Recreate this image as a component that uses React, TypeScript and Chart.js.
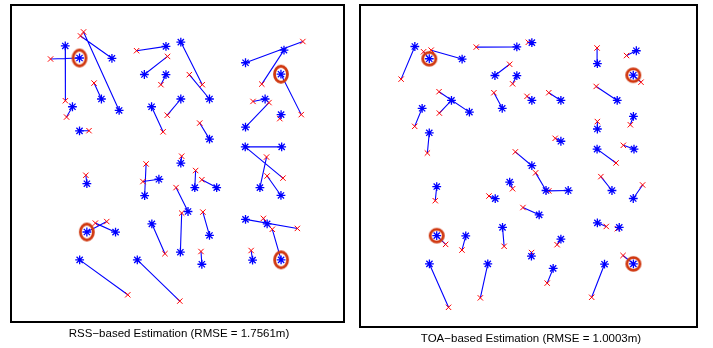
import React, { useEffect, useRef } from "react";
import { Chart, registerables } from "chart.js";

Chart.register(...registerables);

// True node positions (blue asterisks), metres
const trueX = [3.21, 4.2, 6.45, 6.95, 5.72, 3.71, 4.2, 10.2, 11.23, 8.7, 10.2, 9.2, 11.23, 13.22, 13.22, 11.23, 15.72, 18.39, 18.18, 17.08, 15.72, 18.19, 18.23, 15.7, 16.72, 18.18, 15.72, 17.22, 18.19, 16.21, 12.2, 13.72, 11.73, 11.2, 13.22, 12.69, 8.21, 4.21, 4.71, 6.7, 9.22, 4.71, 8.72, 9.71];
const trueY = [18.7, 17.86, 17.84, 14.2, 15.0, 14.46, 12.78, 18.67, 18.97, 16.71, 16.7, 14.46, 15.0, 15.0, 12.2, 10.52, 17.53, 18.41, 16.73, 15.0, 13.04, 13.91, 11.66, 11.66, 8.82, 8.27, 6.6, 6.29, 3.78, 3.76, 8.82, 8.82, 7.15, 4.31, 5.48, 3.47, 3.78, 3.78, 5.72, 5.71, 6.29, 9.09, 8.26, 9.4];

// RSS-based estimates (red x, left panel)
const rssX = [3.22, 2.19, 4.27, 4.48, 5.21, 3.3, 4.86, 8.16, 12.72, 10.31, 9.85, 10.0, 10.29, 11.82, 12.54, 11.29, 19.7, 16.85, 19.59, 16.24, 17.35, 18.1, 15.71, 18.32, 17.18, 17.22, 19.32, 16.96, 17.58, 16.11, 12.26, 12.69, 10.9, 11.29, 12.76, 12.63, 11.16, 7.55, 6.09, 5.3, 10.13, 4.64, 8.82, 8.6];
const rssY = [14.88, 17.79, 19.4, 19.68, 16.11, 13.74, 12.79, 18.37, 16.0, 17.97, 16.0, 12.71, 13.87, 16.7, 13.32, 11.01, 19.01, 16.04, 13.91, 14.83, 14.75, 13.63, 11.67, 9.48, 10.95, 9.63, 5.97, 6.67, 5.91, 4.43, 10.01, 9.37, 8.82, 7.04, 7.11, 4.36, 0.9, 1.34, 6.45, 6.34, 4.21, 9.68, 10.47, 9.24];

// TOA-based estimates (red x, right panel)
const toaX = [2.27, 3.81, 4.33, 4.87, 4.89, 3.2, 4.07, 7.42, 10.99, 9.71, 9.91, 8.63, 10.9, 12.39, 12.83, 10.1, 15.7, 17.72, 18.71, 15.64, 15.72, 17.98, 17.5, 17.0, 15.96, 18.82, 16.33, 17.09, 17.48, 15.33, 11.49, 12.39, 10.62, 11.21, 12.96, 12.28, 7.7, 5.52, 5.32, 6.44, 9.33, 4.61, 8.29, 9.91];
const toaY = [16.46, 18.34, 18.45, 15.6, 14.13, 13.22, 11.39, 18.66, 18.99, 17.48, 16.14, 15.53, 15.28, 15.53, 12.4, 11.47, 18.6, 18.08, 16.25, 15.96, 13.55, 13.33, 11.92, 10.71, 9.77, 9.2, 6.35, 6.2, 4.36, 1.49, 10.03, 8.79, 7.65, 4.56, 5.1, 2.46, 1.45, 0.8, 5.12, 4.73, 4.99, 8.12, 8.44, 8.94];

// Highlighted (circled) nodes, zero-based indices
const circledIdx = [1, 18, 28, 38];

const xRange = [0, 22];
const yRange = [0, 21];

const captionRSS = "RSS\u2212based Estimation (RMSE = 1.7561m)";
const captionTOA = "TOA\u2212based Estimation (RMSE = 1.0003m)";

const RING_COLOR = "rgb(208,56,16)";

function makeRing(rx: number, ry: number, lw: number, color: string) {
  const c = document.createElement("canvas");
  const w = Math.ceil(2 * rx + lw + 2);
  const h = Math.ceil(2 * ry + lw + 2);
  c.width = w;
  c.height = h;
  const ctx = c.getContext("2d")!;
  ctx.strokeStyle = color;
  ctx.lineWidth = lw;
  ctx.beginPath();
  ctx.ellipse(w / 2, h / 2, rx, ry, 0, 0, Math.PI * 2);
  ctx.stroke();
  return c;
}

type PanelProps = {
  left: number;
  top: number;
  width: number;
  height: number;
  estX: number[];
  estY: number[];
  ringRx: number;
  ringRy: number;
};

function Panel({ left, top, width, height, estX, estY, ringRx, ringRy }: PanelProps) {
  const ref = useRef<HTMLCanvasElement>(null);
  useEffect(() => {
    if (!ref.current) return;
    const ring = makeRing(ringRx, ringRy, 2.8, RING_COLOR);
    const links: { x: number; y: number | null }[] = [];
    for (let i = 0; i < trueX.length; i++) {
      links.push({ x: trueX[i], y: trueY[i] });
      links.push({ x: estX[i], y: estY[i] });
      links.push({ x: estX[i], y: null });
    }
    const chart = new Chart(ref.current, {
      type: "scatter",
      data: {
        datasets: [
          {
            label: "circled",
            data: circledIdx.map((i) => ({ x: trueX[i], y: trueY[i] })),
            pointStyle: ring as any,
            pointRadius: 8,
            borderColor: RING_COLOR,
            backgroundColor: "transparent",
          },
          {
            label: "true",
            data: trueX.map((x, i) => ({ x, y: trueY[i] })),
            pointStyle: "star",
            pointRadius: 4.4,
            borderWidth: 1.3,
            borderColor: "#0000ff",
            backgroundColor: "#0000ff",
          },
          {
            label: "estimate",
            data: estX.map((x, i) => ({ x, y: estY[i] })),
            pointStyle: "crossRot",
            pointRadius: 3.8,
            borderWidth: 1,
            borderColor: "#ff0000",
            backgroundColor: "#ff0000",
          },
          {
            label: "links",
            data: links as any,
            showLine: true,
            spanGaps: false,
            pointRadius: 0,
            borderWidth: 1.1,
            borderColor: "#0000ff",
            backgroundColor: "#0000ff",
          } as any,
        ],
      },
      options: {
        animation: false,
        responsive: false,
        maintainAspectRatio: false,
        events: [],
        layout: { padding: 0 },
        plugins: { legend: { display: false }, tooltip: { enabled: false } },
        scales: {
          x: { type: "linear", min: xRange[0], max: xRange[1], display: false },
          y: { type: "linear", min: yRange[0], max: yRange[1], display: false },
        },
      },
    });
    return () => chart.destroy();
  }, []);
  return (
    <>
      <canvas
        ref={ref}
        width={width}
        height={height}
        style={{ position: "absolute", left, top, width, height }}
      />
      <div
        style={{
          position: "absolute",
          left,
          top,
          width,
          height,
          border: "2px solid #000",
          boxSizing: "border-box",
          pointerEvents: "none",
        }}
      />
    </>
  );
}

const captionStyle: React.CSSProperties = {
  position: "absolute",
  width: 320,
  textAlign: "center",
  fontFamily: "'Liberation Sans', Arial, sans-serif",
  fontSize: "11.5px",
  lineHeight: "12px",
  whiteSpace: "nowrap",
  color: "#000",
};

export default function App() {
  return (
    <div
      style={{
        position: "fixed",
        left: 0,
        top: 0,
        width: 713,
        height: 348,
        background: "#fff",
        overflow: "hidden",
      }}
    >
      <Panel left={10} top={4} width={335} height={319} estX={rssX} estY={rssY} ringRx={6.5} ringRy={8} />
      <Panel left={359} top={4} width={339} height={324} estX={toaX} estY={toaY} ringRx={6.6} ringRy={6.3} />
      <div style={{ ...captionStyle, left: 179 - 160, top: 326.5 }}>{captionRSS}</div>
      <div style={{ ...captionStyle, left: 531 - 160, top: 331.5 }}>{captionTOA}</div>
    </div>
  );
}
